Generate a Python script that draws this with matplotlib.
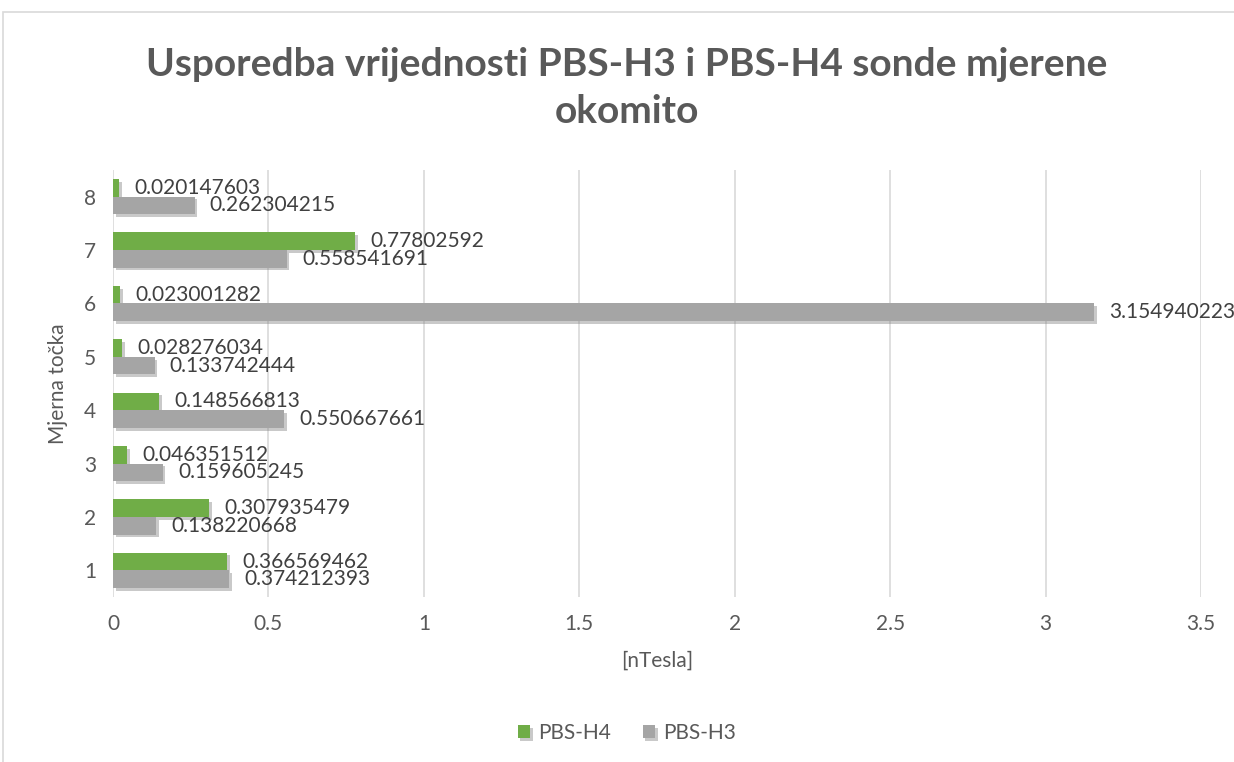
import matplotlib.pyplot as plt
import matplotlib.patheffects as pe
from matplotlib.patches import Rectangle
import numpy as np

plt.rcParams['font.family'] = ['Lato', 'DejaVu Sans']

points = ['1', '2', '3', '4', '5', '6', '7', '8']
pbs_h4 = [0.366569462, 0.307935479, 0.046351512, 0.148566813,
          0.028276034, 0.023001282, 0.77802592, 0.020147603]
pbs_h3 = [0.374212393, 0.138220668, 0.159605245, 0.550667661,
          0.133742444, 3.154940223, 0.558541691, 0.262304215]
h4_labels = ['0.366569462', '0.307935479', '0.046351512', '0.148566813',
             '0.028276034', '0.023001282', '0.77802592', '0.020147603']
h3_labels = ['0.374212393', '0.138220668', '0.159605245', '0.550667661',
             '0.133742444', '3.154940223', '0.558541691', '0.262304215']

green = '#70AD47'
grey = '#A5A5A5'
txt = '#404040'

fig = plt.figure(figsize=(12.34, 7.62), dpi=100)
# chart border (cropped on right and bottom)
fig.patches.append(Rectangle((3 / 1234, -0.1), 1.2, 1 - 12 / 762 + 0.1,
                             transform=fig.transFigure, fill=False,
                             edgecolor='#D9D9D9', linewidth=1.2))

ax = fig.add_axes([113 / 1234, 1 - 597 / 762, 1088 / 1234, 427 / 762])

y = np.arange(len(points))
h = 0.33
shadow = [pe.SimplePatchShadow(offset=(2, -2), shadow_rgbFace='#888888', alpha=0.45), pe.Normal()]
b4 = ax.barh(y + h / 2, pbs_h4, height=h, color=green, label='PBS-H4', zorder=3)
b3 = ax.barh(y - h / 2, pbs_h3, height=h, color=grey, label='PBS-H3', zorder=3)
for b in list(b4) + list(b3):
    b.set_path_effects(shadow)

for yi, v, s in zip(y, pbs_h4, h4_labels):
    ax.annotate(s, (v, yi + h / 2), xytext=(11, 0), textcoords='offset points',
                va='center', ha='left', fontsize=15, color=txt, annotation_clip=False)
for yi, v, s in zip(y, pbs_h3, h3_labels):
    ax.annotate(s, (v, yi - h / 2), xytext=(11, 0), textcoords='offset points',
                va='center', ha='left', fontsize=15, color=txt, annotation_clip=False)

ax.set_xlim(0, 3.5)
ax.set_ylim(-0.5, len(points) - 0.5)
ax.set_xticks(np.arange(0, 3.51, 0.5))
ax.set_xticklabels(['0', '0.5', '1', '1.5', '2', '2.5', '3', '3.5'])
ax.set_yticks(y)
ax.set_yticklabels(points)
ax.tick_params(length=0, labelsize=15, labelcolor='#595959', pad=12)
ax.grid(axis='x', color='#D9D9D9', linewidth=1.2, zorder=0)
for sp in ax.spines.values():
    sp.set_visible(False)

ax.set_xlabel('[nTesla]', fontsize=15, color='#595959', labelpad=12)
ax.set_ylabel('Mjerna točka', fontsize=15, color='#595959', labelpad=12)

fig.text(627 / 1234, 1 - 88 / 762, 'Usporedba vrijednosti PBS-H3 i PBS-H4 sonde mjerene\nokomito',
         ha='center', va='center', fontsize=28, fontweight='bold', color='#595959',
         linespacing=1.4)

handles = [b4, b3]
fig.legend(handles, ['PBS-H4', 'PBS-H3'], loc='center', bbox_to_anchor=(627 / 1234, 1 - 733 / 762),
           ncol=2, frameon=False, fontsize=15, labelcolor='#595959',
           handlelength=0.6, handleheight=0.6, handletextpad=0.4, columnspacing=1.5)

fig.savefig('out.png', dpi=100)
